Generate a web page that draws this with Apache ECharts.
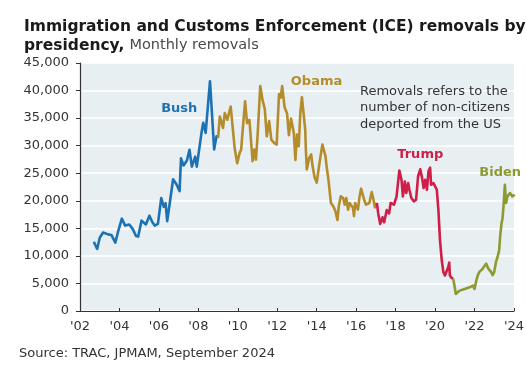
<!DOCTYPE html>
<html>
<head>
<meta charset="utf-8">
<script src="https://cdn.jsdelivr.net/npm/echarts@6/dist/echarts.min.js"></script>
<style>
html,body{margin:0;padding:0;background:#fff;}
#chart{width:527px;height:370px;}
</style>
</head>
<body>
<div id="chart"></div>
<script>
// ---- Data (decimal years, monthly removals) ----
const bushYears = [2002.70,2002.87,2003.00,2003.17,2003.42,2003.59,2003.79,2003.92,2004.12,2004.29,2004.50,2004.67,2004.84,2004.95,2005.12,2005.34,2005.52,2005.67,2005.79,2005.95,2006.12,2006.25,2006.34,2006.42,2006.55,2006.72,2006.89,2007.05,2007.12,2007.25,2007.42,2007.55,2007.67,2007.84,2007.92,2008.17,2008.25,2008.37,2008.59,2008.80,2008.92,2009.00];
const bushValues = [12560,11250,13300,14250,13900,13800,12400,14250,16750,15500,15700,14900,13600,13500,16400,15700,17300,16100,15500,15800,20500,18900,19560,16300,19560,23900,23000,21750,27700,26400,27300,29250,26200,28000,26200,32600,34150,32300,41700,29300,31700,31400];

const obamaYears = [2009.00,2009.09,2009.17,2009.25,2009.34,2009.47,2009.64,2009.72,2009.84,2009.97,2010.09,2010.17,2010.25,2010.37,2010.47,2010.59,2010.75,2010.84,2010.92,2011.00,2011.14,2011.25,2011.37,2011.47,2011.59,2011.70,2011.84,2011.97,2012.09,2012.17,2012.25,2012.37,2012.50,2012.59,2012.70,2012.84,2012.92,2013.00,2013.09,2013.17,2013.25,2013.34,2013.42,2013.45,2013.50,2013.62,2013.72,2013.79,2013.89,2014.00,2014.12,2014.22,2014.29,2014.39,2014.45,2014.50,2014.59,2014.72,2014.84,2014.95,2015.05,2015.12,2015.22,2015.34,2015.42,2015.50,2015.59,2015.67,2015.75,2015.84,2015.89,2015.95,2016.09,2016.17,2016.25,2016.34,2016.42,2016.50,2016.67,2016.79,2016.89,2016.95,2017.05];
const obamaValues = [31400,35300,35600,33200,35900,34700,37100,34100,29600,26800,28650,29300,32900,38050,34100,34700,27200,29300,27450,31700,40800,38350,36600,31700,34450,31100,30500,30200,39350,38700,40800,37000,35800,31900,34900,32300,27400,32000,29900,36000,38800,38700,32800,29300,25700,27800,28400,26300,24300,23300,26300,28700,30200,29900,28000,26300,24000,19600,19000,18100,16500,19000,20800,20500,19300,20500,18400,19600,19900,18700,17200,19600,18400,20700,22200,21900,20000,19300,19600,21600,20000,18800,19600];

const trumpYears = [2017.05,2017.12,2017.22,2017.34,2017.42,2017.55,2017.67,2017.75,2017.84,2017.92,2018.05,2018.19,2018.30,2018.37,2018.47,2018.54,2018.64,2018.70,2018.80,2018.92,2019.04,2019.14,2019.25,2019.34,2019.42,2019.50,2019.59,2019.67,2019.75,2019.80,2019.92,2020.00,2020.09,2020.17,2020.25,2020.34,2020.42,2020.50,2020.59,2020.67,2020.72,2020.75,2020.84,2020.92];
const trumpValues = [19600,17700,15800,17000,16100,18300,17700,19600,19900,19300,20800,25500,23800,20800,23500,21400,23200,22000,20500,19900,20200,24450,25700,24200,22300,23800,22000,25400,26000,22900,23200,23000,22000,18350,12900,9200,7100,6450,6800,8000,8800,6450,6000,5850];

const bidenYears = [2020.92,2021.00,2021.05,2021.25,2021.50,2021.75,2021.92,2022.00,2022.09,2022.17,2022.25,2022.34,2022.42,2022.50,2022.59,2022.70,2022.84,2022.92,2023.00,2023.09,2023.17,2023.25,2023.30,2023.37,2023.42,2023.47,2023.54,2023.60,2023.67,2023.75,2023.80,2023.92,2024.04];
const bidenValues = [5850,4300,3100,3700,4000,4300,4600,4000,5500,6500,7100,6800,7700,7700,8600,7700,7100,6500,7100,8900,9800,11000,13500,15900,16800,19000,22900,19600,20800,20500,21400,20800,21100];

const presidents = ['Bush','Obama','Trump','Biden'];
const presidentColors = ['#1f72b2','#b58c2c','#cf1f48','#8c9a30'];
// label anchor positions in data coords [year, value]
const labelAnchors = [[2007.03,36760],[2013.99,41530],[2019.25,28430],[2023.30,25170]];

const yTicks = [0,5000,10000,15000,20000,25000,30000,35000,40000,45000];
const xTickYears = [2002,2004,2006,2008,2010,2012,2014,2016,2018,2020,2022,2024];

const allYears = [bushYears, obamaYears, trumpYears, bidenYears];
const allValues = [bushValues, obamaValues, trumpValues, bidenValues];

const FONT = '"DejaVu Sans", sans-serif';

const chart = echarts.init(document.getElementById('chart'));

const series = presidents.map((name, i) => ({
  name: name,
  type: 'line',
  data: allYears[i].map((y, j) => [y, allValues[i][j]]),
  showSymbol: false,
  symbol: 'none',
  clip: false,
  lineStyle: { color: presidentColors[i], width: 2.6, join: 'round' },
  itemStyle: { color: presidentColors[i] },
  markPoint: {
    symbol: 'circle',
    symbolSize: 1,
    itemStyle: { color: 'rgba(0,0,0,0)' },
    label: {
      show: true,
      position: 'inside',
      formatter: name,
      color: presidentColors[i],
      fontFamily: FONT,
      fontWeight: 'bold',
      fontSize: 13
    },
    data: [{ coord: labelAnchors[i] }]
  },
  z: 3
}));

const option = {
  animation: false,
  backgroundColor: '#ffffff',
  title: {
    left: 19,
    top: 12,
    text: '{b|Immigration and Customs Enforcement (ICE) removals by}\n{b|presidency,} {n|Monthly removals}',
    textStyle: {
      rich: {
        b: { fontFamily: FONT, fontWeight: 'bold', fontSize: 15.5, color: '#1a1a1a', lineHeight: 19 },
        n: { fontFamily: FONT, fontWeight: 'normal', fontSize: 14.5, color: '#4a4a4a', lineHeight: 19 }
      }
    }
  },
  grid: {
    left: 80, right: 7, top: 63, bottom: 59,
    show: true,
    backgroundColor: '#e7eff2',
    borderWidth: 0
  },
  xAxis: {
    type: 'value',
    min: xTickYears[0],
    max: xTickYears[xTickYears.length - 1],
    interval: 2,
    axisLine: { show: true, lineStyle: { color: '#333', width: 1.2 } },
    axisTick: { show: true, inside: true, length: 3, lineStyle: { color: '#333' } },
    splitLine: { show: false },
    axisLabel: {
      margin: 9,
      color: '#333',
      fontFamily: FONT,
      fontSize: 13,
      formatter: v => "'" + String(v).slice(2)
    }
  },
  yAxis: {
    type: 'value',
    min: yTicks[0],
    max: yTicks[yTicks.length - 1],
    interval: 5000,
    axisLine: { show: true, lineStyle: { color: '#333', width: 1.2 } },
    axisTick: { show: true, length: 4, lineStyle: { color: '#333' } },
    splitLine: { show: true, lineStyle: { color: '#ffffff', width: 1.5 } },
    axisLabel: {
      margin: 11,
      color: '#333',
      fontFamily: FONT,
      fontSize: 13,
      formatter: v => v.toLocaleString('en-US')
    }
  },
  graphic: [
    {
      type: 'text',
      left: 360,
      top: 83,
      style: {
        text: 'Removals refers to the\nnumber of non-citizens\ndeported from the US',
        fontFamily: FONT,
        fontSize: 13,
        lineHeight: 16.5,
        fill: '#333'
      },
      z: 10
    },
    {
      type: 'text',
      left: 19,
      top: 347,
      style: {
        text: 'Source: TRAC, JPMAM, September 2024',
        fontFamily: FONT,
        fontSize: 13,
        fill: '#333'
      }
    }
  ],
  series: series
};

chart.setOption(option);
</script>
</body>
</html>
